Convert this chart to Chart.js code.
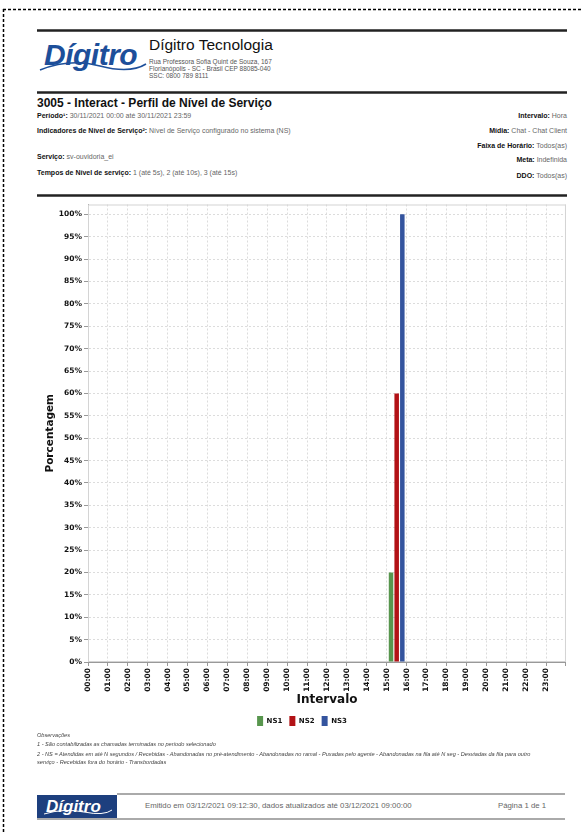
<!DOCTYPE html>
<html>
<head>
<meta charset="utf-8">
<script src="https://cdn.jsdelivr.net/npm/chart.js@4/dist/chart.umd.min.js"></script>
<style>
body { margin: 0; width: 582px; height: 834px; overflow: hidden; background: #fff; position: relative;
       font-family: "Liberation Sans", Arial, sans-serif; color: #111; }
.t { position: absolute; white-space: nowrap; line-height: 1; }
.v { color: #666; font-weight: normal; }
.b { font-weight: bold; color: #111; }
.row { font-size: 7px; }
.r { text-align: right; right: 15px; }
.obs { font-size: 5.6px; font-style: italic; color: #444; left: 37px; }
#chartBox { position: absolute; left: 37px; top: 198px; width: 530px; height: 538px; }
svg { position: absolute; left: 0; top: 0; }
</style>
</head>
<body>
<svg width="582" height="834">
  <line x1="3.5" y1="9" x2="3.5" y2="834" stroke="#000" stroke-width="1.5" stroke-dasharray="3 2"/>
  <line x1="3" y1="9.5" x2="582" y2="9.5" stroke="#000" stroke-width="1.5" stroke-dasharray="3 2"/>
  <line x1="37" y1="30.5" x2="567" y2="30.5" stroke="#222" stroke-width="2.5"/>
  <line x1="37" y1="92.5" x2="567" y2="92.5" stroke="#222" stroke-width="2.5"/>
  <line x1="37" y1="195.5" x2="567" y2="195.5" stroke="#222" stroke-width="2.5"/>
  <path d="M40 70 Q70 58 100 66 T146 64" fill="none" stroke="#1d4f9a" stroke-width="1.6"/>
  <line x1="117" y1="794" x2="565" y2="794" stroke="#aaa" stroke-width="2"/>
  <line x1="37" y1="819" x2="565" y2="819" stroke="#aaa" stroke-width="2"/>
  <rect x="37" y="795" width="80" height="23" fill="#1d3f7e"/>
  <path d="M44 814 Q64 808 84 812 T112 810" fill="none" stroke="#fff" stroke-width="1"/>
</svg>

<div class="t" style="left:44px;top:40px;font-size:30px;font-weight:bold;font-style:italic;color:#1d4f9a;letter-spacing:-0.5px">Dígitro</div>
<div class="t" style="left:149px;top:37px;font-size:15.5px;">Dígitro Tecnologia</div>
<div class="t" style="left:149px;top:58.5px;font-size:6.5px;color:#555">Rua Professora Sofia Quint de Souza, 167</div>
<div class="t" style="left:149px;top:65.5px;font-size:6.5px;color:#555">Florianópolis - SC - Brasil CEP 88085-040</div>
<div class="t" style="left:149px;top:72.5px;font-size:6.5px;color:#555">SSC: 0800 789 8111</div>

<div class="t b" style="left:37px;top:97px;font-size:12px">3005 - Interact - Perfil de Nível de Serviço</div>
<div class="t row" style="left:37px;top:112px"><span class="b">Período¹:</span> <span class="v">30/11/2021 00:00 até 30/11/2021 23:59</span></div>
<div class="t row" style="left:37px;top:127px"><span class="b">Indicadores de Nível de Serviço²:</span> <span class="v">Nível de Serviço configurado no sistema (NS)</span></div>
<div class="t row" style="left:37px;top:153px"><span class="b">Serviço:</span> <span class="v">sv-ouvidoria_ei</span></div>
<div class="t row" style="left:37px;top:169px"><span class="b">Tempos de Nível de serviço:</span> <span class="v">1 (até 5s), 2 (até 10s), 3 (até 15s)</span></div>
<div class="t row r" style="top:112px"><span class="b">Intervalo:</span> <span class="v">Hora</span></div>
<div class="t row r" style="top:127px"><span class="b">Mídia:</span> <span class="v">Chat - Chat Client</span></div>
<div class="t row r" style="top:142px"><span class="b">Faixa de Horário:</span> <span class="v">Todos(as)</span></div>
<div class="t row r" style="top:156px"><span class="b">Meta:</span> <span class="v">Indefinida</span></div>
<div class="t row r" style="top:172px"><span class="b">DDO:</span> <span class="v">Todos(as)</span></div>

<div id="chartBox"><canvas id="myChart"></canvas></div>

<div class="t obs" style="top:733px">Observações</div>
<div class="t obs" style="top:742px">1 - São contabilizadas as chamadas terminadas no período selecionado</div>
<div class="t obs" style="top:752px">2 - NS = Atendidas em até N segundos / Recebidas - Abandonadas no pré-atendimento - Abandonadas no ramal - Puxadas pelo agente - Abandonadas na fila até N seg - Desviadas da fila para outro</div>
<div class="t obs" style="top:760px">serviço - Recebidas fora do horário - Transbordadas</div>

<div class="t" style="left:46px;top:798px;font-size:17px;font-weight:bold;font-style:italic;color:#fff">Dígitro</div>
<div class="t" style="left:145px;top:802px;font-size:7.8px;color:#666">Emitido em 03/12/2021 09:12:30, dados atualizados até 03/12/2021 09:00:00</div>
<div class="t" style="left:498px;top:802px;font-size:7.8px;color:#666">Página 1 de 1</div>

<script>
var hours = ['00:00', '01:00', '02:00', '03:00', '04:00', '05:00', '06:00', '07:00',
             '08:00', '09:00', '10:00', '11:00', '12:00', '13:00', '14:00', '15:00',
             '16:00', '17:00', '18:00', '19:00', '20:00', '21:00', '22:00', '23:00'];
var ns1 = [0, 0, 0, 0, 0, 0, 0, 0, 0, 0, 0, 0, 0, 0, 0, 20, 0, 0, 0, 0, 0, 0, 0, 0];
var ns2 = [0, 0, 0, 0, 0, 0, 0, 0, 0, 0, 0, 0, 0, 0, 0, 60, 0, 0, 0, 0, 0, 0, 0, 0];
var ns3 = [0, 0, 0, 0, 0, 0, 0, 0, 0, 0, 0, 0, 0, 0, 0, 100, 0, 0, 0, 0, 0, 0, 0, 0];
var yTicks = [0, 5, 10, 15, 20, 25, 30, 35, 40, 45, 50, 55, 60, 65, 70, 75, 80, 85, 90, 95, 100];

var tickFont = { family: 'DejaVu Sans', weight: 'bold', size: 7.5 };

// light frame round the plot (top and right edges)
var frame = {
    id: 'frame',
    beforeDatasetsDraw: function(chart) {
        var ctx = chart.ctx, a = chart.chartArea;
        ctx.save();
        ctx.strokeStyle = '#d4d4d4';
        ctx.lineWidth = 1;
        ctx.strokeRect(a.left + 0.5, a.top + 0.5, a.right - a.left - 1, a.bottom - a.top - 1);
        ctx.restore();
    }
};

var ctx = document.getElementById('myChart').getContext('2d');
var myChart = new Chart(ctx, {
    type: 'bar',
    data: {
        labels: hours,
        datasets: [{
            label: 'NS1',
            data: ns1,
            backgroundColor: 'rgb(88, 150, 78)',
            borderWidth: 0},
        {
            label: 'NS2',
            data: ns2,
            backgroundColor: 'rgb(178, 18, 22)',
            borderWidth: 0},
        {
            label: 'NS3',
            data: ns3,
            backgroundColor: 'rgb(52, 84, 158)',
            borderWidth: 0}
        ]
    },
    plugins: [frame],
    options: {
        responsive: true,
        maintainAspectRatio: false,
        animation: false,
        categoryPercentage: 0.85,
        barPercentage: 0.8,
        layout: { padding: { top: 5, right: 0, bottom: 0, left: 0 } },
        plugins: {
            tooltip: { enabled: false },
            legend: {
                position: 'bottom',
                labels: {
                    boxWidth: 6,
                    boxHeight: 10,
                    padding: 7,
                    color: '#111',
                    font: { family: 'DejaVu Sans', weight: 'bold', size: 7 }
                }
            }
        },
        scales: {
            x: {
                offset: true,
                grid: { offset: true, color: '#dcdcdc', tickColor: '#999', tickLength: 4 },
                border: { color: '#999', dash: [2, 2] },
                ticks: {
                    autoSkip: false,
                    minRotation: 90,
                    maxRotation: 90,
                    labelOffset: -10,
                    padding: 2,
                    color: '#111',
                    font: tickFont
                },
                title: {
                    display: true,
                    text: 'Intervalo',
                    color: '#111',
                    font: { family: 'DejaVu Sans', weight: 'bold', size: 12 },
                    padding: { top: 2, bottom: 2 }
                },
                afterFit: function(s) { s.height = 47; }
            },
            y: {
                min: 0,
                max: 102.2,
                afterBuildTicks: function(s) {
                    s.ticks = yTicks.map(function(v) { return { value: v }; });
                },
                afterFit: function(s) { s.width = 51; },
                grid: { color: '#dcdcdc', tickColor: '#999', tickLength: 4 },
                border: { color: '#999', dash: [2, 2] },
                ticks: {
                    padding: 2,
                    color: '#111',
                    font: tickFont,
                    callback: function(v) { return v + '%'; }
                },
                title: {
                    display: true,
                    text: 'Porcentagem',
                    color: '#111',
                    font: { family: 'DejaVu Sans', weight: 'bold', size: 10.5 },
                    padding: { top: 7, bottom: 7 }
                }
            }
        }
    }
});
</script>
</body>
</html>
